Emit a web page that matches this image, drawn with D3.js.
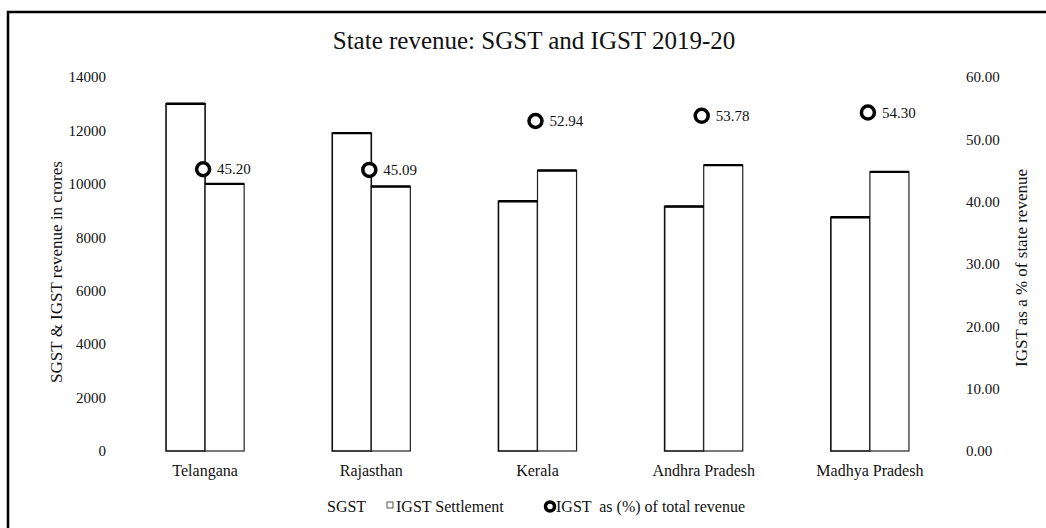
<!DOCTYPE html>
<html>
<head>
<meta charset="utf-8">
<script src="https://cdn.jsdelivr.net/npm/d3@7"></script>
<style>
  html, body { margin: 0; padding: 0; background: #fff; }
  svg { display: block; font-family: "Liberation Serif", "DejaVu Serif", serif; }
</style>
</head>
<body>
<svg id="chart" width="1046" height="528"></svg>
<script>
const categories = ["Telangana", "Rajasthan", "Kerala", "Andhra Pradesh", "Madhya Pradesh"];
const sgst = [13000, 11900, 9350, 9150, 8750];
const igstSettlement = [10000, 9900, 10500, 10700, 10450];
const igstPct = [45.20, 45.09, 52.94, 53.78, 54.30];
const leftTicks = [0, 2000, 4000, 6000, 8000, 10000, 12000, 14000];
const rightTicks = [0, 10, 20, 30, 40, 50, 60];
const seriesNames = ["SGST", "IGST Settlement", "IGST  as (%) of total revenue"];

const svg = d3.select("#chart");

// frame
svg.append("path")
  .attr("d", "M8,528 L8,12 L1046,12")
  .attr("fill", "none").attr("stroke", "#000").attr("stroke-width", 2.5);

// title
svg.append("text")
  .attr("x", 534).attr("y", 49)
  .attr("text-anchor", "middle")
  .attr("font-size", 25)
  .attr("fill", "#111")
  .text("State revenue: SGST and IGST 2019-20");

const x = d3.scaleBand().domain(categories).range([122, 953]).paddingInner(0.53).paddingOuter(0.265);
const xs = d3.scaleBand().domain(["SGST", "IGST"]).range([0, x.bandwidth()]);
const y = d3.scaleLinear().domain([0, 14000]).range([451, 77]);
const y2 = d3.scaleLinear().domain([0, 60]).range([451, 77]);

// left axis
const gl = svg.append("g").attr("transform", "translate(108,0)")
  .call(d3.axisLeft(y).tickValues(leftTicks).tickSize(0).tickPadding(2).tickFormat(d3.format("d")));
gl.select(".domain").remove();
gl.selectAll("text").attr("font-size", 15).attr("font-family", "Liberation Serif").attr("fill", "#111");

// right axis
const gr = svg.append("g").attr("transform", "translate(964,0)")
  .call(d3.axisRight(y2).tickValues(rightTicks).tickSize(0).tickPadding(2).tickFormat(d3.format(".2f")));
gr.select(".domain").remove();
gr.selectAll("text").attr("font-size", 15).attr("font-family", "Liberation Serif").attr("fill", "#111");

// axis titles
svg.append("text")
  .attr("transform", "translate(62,272) rotate(-90)")
  .attr("text-anchor", "middle").attr("font-size", 17).attr("fill", "#111")
  .text("SGST & IGST revenue in crores");
svg.append("text")
  .attr("transform", "translate(1027,268) rotate(-90)")
  .attr("text-anchor", "middle").attr("font-size", 17).attr("fill", "#111")
  .text("IGST as a % of state revenue");

// category labels
const gx = svg.append("g").attr("transform", "translate(0,462)")
  .call(d3.axisBottom(x).tickSize(0).tickPadding(3));
gx.select(".domain").remove();
gx.selectAll("text").attr("font-size", 16).attr("font-family", "Liberation Serif").attr("fill", "#111");

// bars
const groups = svg.append("g").selectAll("g").data(categories).join("g")
  .attr("transform", d => `translate(${x(d)},0)`);

groups.append("rect")
  .attr("x", xs("SGST")).attr("width", xs.bandwidth())
  .attr("y", (d, i) => y(sgst[i])).attr("height", (d, i) => y(0) - y(sgst[i]))
  .attr("fill", "#fff").attr("stroke", "#111").attr("stroke-width", 1.6);

groups.append("rect")
  .attr("x", xs("IGST")).attr("width", xs.bandwidth())
  .attr("y", (d, i) => y(igstSettlement[i])).attr("height", (d, i) => y(0) - y(igstSettlement[i]))
  .attr("fill", "#fff").attr("stroke", "#222").attr("stroke-width", 1.2);

// heavier top edges
groups.append("line")
  .attr("x1", xs("SGST")).attr("x2", xs("SGST") + xs.bandwidth())
  .attr("y1", (d, i) => y(sgst[i])).attr("y2", (d, i) => y(sgst[i]))
  .attr("stroke", "#000").attr("stroke-width", 2.4);
groups.append("line")
  .attr("x1", xs("IGST")).attr("x2", xs("IGST") + xs.bandwidth())
  .attr("y1", (d, i) => y(igstSettlement[i])).attr("y2", (d, i) => y(igstSettlement[i]))
  .attr("stroke", "#000").attr("stroke-width", 2.4);

// percentage markers
groups.append("circle")
  .attr("cx", x.bandwidth() / 2 - 2)
  .attr("cy", (d, i) => y2(igstPct[i]))
  .attr("r", 6.5)
  .attr("fill", "#fff").attr("stroke", "#000").attr("stroke-width", 3.5);
groups.append("text")
  .attr("x", x.bandwidth() / 2 + 12)
  .attr("y", (d, i) => y2(igstPct[i]) + 5)
  .attr("font-size", 15).attr("fill", "#111")
  .text((d, i) => d3.format(".2f")(igstPct[i]));

// legend
const lg = svg.append("g").attr("transform", "translate(0,512)").attr("font-size", 16).attr("fill", "#111");
lg.append("text").attr("x", 327).attr("y", 0).text(seriesNames[0]);
lg.append("rect").attr("x", 387).attr("y", -10).attr("width", 6).attr("height", 6)
  .attr("fill", "#fff").attr("stroke", "#555").attr("stroke-width", 1);
lg.append("text").attr("x", 396).attr("y", 0).text(seriesNames[1]);
lg.append("circle").attr("cx", 550).attr("cy", -5.5).attr("r", 4.5)
  .attr("fill", "#fff").attr("stroke", "#000").attr("stroke-width", 3.5);
lg.append("text").attr("x", 556).attr("y", 0).attr("xml:space", "preserve").text(seriesNames[2]);
</script>
</body>
</html>
